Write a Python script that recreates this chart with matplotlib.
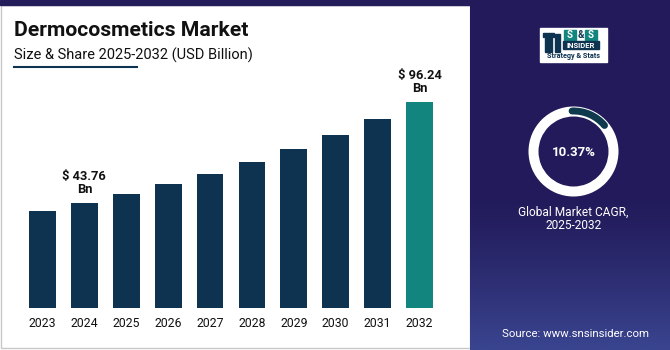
import numpy as np
import matplotlib
matplotlib.use("Agg")
from matplotlib import pyplot as plt
from matplotlib.patches import Rectangle, Wedge, Arc

plt.rcParams['font.family'] = ['Roboto', 'DejaVu Sans']

# chart data
years = ['2023', '2024', '2025', '2026', '2027', '2028', '2029', '2030', '2031', '2032']
market_size = [39.6, 43.76, 48.3, 53.3, 58.8, 64.9, 71.7, 79.1, 87.3, 96.24]
labelled = {'2024': '$ 43.76\nBn', '2032': '$ 96.24\nBn'}
cagr_text = '10.37%'

title = 'Dermocosmetics Market'
subtitle = 'Size & Share 2025-2032 (USD Billion)'
cagr_caption = 'Global Market CAGR,\n2025-2032'
source = 'Source: www.snsinsider.com'

NAVY = '#231d5c'
BAR = '#0e3351'
HIGHLIGHT = '#13857f'

W, H = 670, 350
fig = plt.figure(figsize=(W / 100, H / 100), dpi=100)

# background layer in pixel coordinates
bg = fig.add_axes([0, 0, 1, 1], zorder=0)
bg.set_xlim(0, W)
bg.set_ylim(H, 0)
bg.axis('off')

bg.add_patch(Rectangle((0, 0), W, H, color='white'))
bg.add_patch(Rectangle((0.5, 5), 469, 342.5, facecolor='white', edgecolor='#c8c8c8', lw=1))
bg.add_patch(Rectangle((0, 0), W, 5, color=NAVY))

# right panel with a soft gradient toward the bottom
grad = np.linspace(0, 1, 200)[:, None]
top_c = np.array(matplotlib.colors.to_rgb('#221a5a'))
bot_c = np.array(matplotlib.colors.to_rgb('#3a4590'))
mix = np.clip((grad - 0.55) / 0.45, 0, 1) ** 1.3
img = top_c * (1 - mix[..., None]) + bot_c * mix[..., None]
img = np.repeat(img, 10, axis=1)
bg.imshow(img, extent=(470, W, H, 0), aspect='auto', zorder=1)

# title block
bg.text(14, 30, title, fontsize=15.2, fontweight='bold', color='#111111',
        va='center', ha='left', zorder=3)
bg.text(14, 55, subtitle, fontsize=10.5, color='#111111', va='center', ha='left', zorder=3)
bg.plot([14, 137], [67, 67], color=BAR, lw=1.5, zorder=3)

# logo
bg.add_patch(Rectangle((540, 28), 67, 34, color='white', zorder=3))
bg.add_patch(Rectangle((545, 38), 7, 14, color=BAR, zorder=4))
bg.add_patch(Rectangle((543, 33), 11, 4, color=BAR, zorder=4))
bg.add_patch(Rectangle((555, 34), 5, 18, color=BAR, zorder=4))
bg.add_patch(Rectangle((564, 30), 12, 10, color=HIGHLIGHT, zorder=4))
bg.add_patch(Rectangle((585, 30), 12, 10, color=HIGHLIGHT, zorder=4))
bg.text(570, 35.3, 'S', color='white', fontsize=7, fontweight='bold', ha='center', va='center', zorder=5)
bg.text(580.5, 35.3, '&', color=BAR, fontsize=7, fontweight='bold', ha='center', va='center', zorder=5)
bg.text(591, 35.3, 'S', color='white', fontsize=7, fontweight='bold', ha='center', va='center', zorder=5)
bg.add_patch(Rectangle((563, 41), 36, 8, color=BAR, zorder=4))
bg.text(581, 45.3, 'INSIDER', color='white', fontsize=5.5, fontweight='bold', ha='center', va='center', zorder=5)
bg.text(573.5, 56.5, 'Strategy & Stats', color=BAR, fontsize=5.2, fontweight='bold', ha='center', va='center', zorder=5)

# CAGR donut
cx, cy, r_out = 573.5, 151.5, 45
bg.add_patch(Wedge((cx, cy), r_out, 0, 360, width=10, facecolor='white', edgecolor='none', zorder=3))
bg.add_patch(Arc((cx, cy), 2 * (r_out - 4.5), 2 * (r_out - 4.5), theta1=-92, theta2=-40,
                 color='#0f3a4e', lw=5, capstyle='round', zorder=4))
bg.text(cx, cy + 1, cagr_text, color='white', fontsize=9.5, fontweight='bold',
        ha='center', va='center', zorder=4)
bg.text(cx, 219, cagr_caption, color='white', fontsize=8.6, ha='center', va='center',
        linespacing=1.05, zorder=4)
bg.text(575, 334, source, color='white', fontsize=8.2, ha='center', va='center', zorder=4)

# bar chart
ax = fig.add_axes([21.5 / W, 42.3 / H, 419 / W, 247.7 / H], zorder=2)
ax.patch.set_alpha(0)
y0 = -10.8
ax.set_ylim(y0, y0 + 247.7 * 0.5196)
x = np.arange(len(years))
colors = [HIGHLIGHT if y == years[-1] else BAR for y in years]
vals = np.array(market_size)
ax.bar(x, vals - y0, bottom=y0, width=0.64, color=colors)
ax.set_xlim(-0.5, len(years) - 0.5)
ax.set_xticks(x, years)
ax.tick_params(axis='x', length=0, pad=6.5, labelsize=8.8, labelcolor='#111111')
ax.set_yticks([])
for s in ax.spines.values():
    s.set_visible(False)

for i, y in enumerate(years):
    if y in labelled:
        ax.annotate(labelled[y], (x[i], vals[i]), xytext=(0, 5), textcoords='offset points',
                    ha='center', va='bottom', fontsize=9.3, fontweight='bold',
                    color='#111111', linespacing=0.95)

fig.savefig('out.png', dpi=100)
